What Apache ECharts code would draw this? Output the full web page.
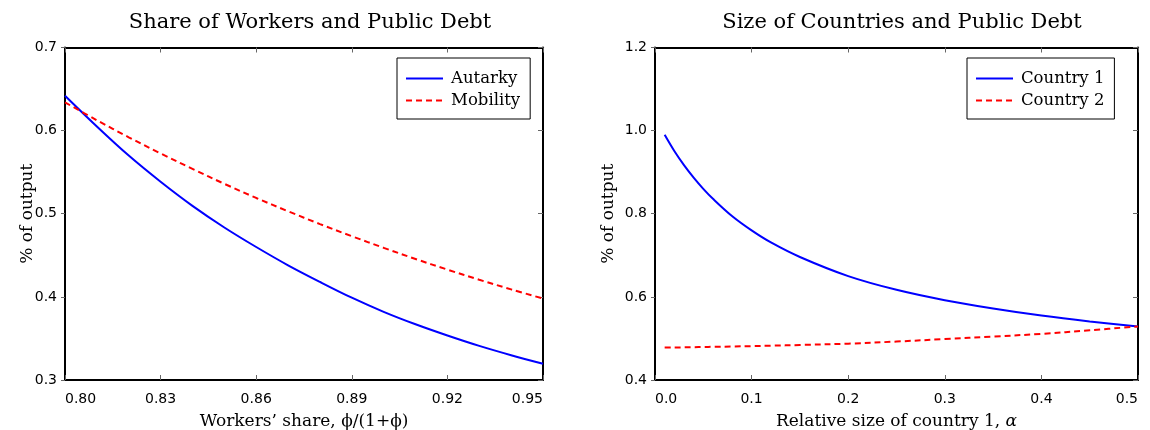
<!DOCTYPE html>
<html>
<head>
<meta charset="utf-8">
<script src="https://cdn.jsdelivr.net/npm/echarts@6/dist/echarts.min.js"></script>
<style>
  html, body { margin: 0; padding: 0; background: #fff; }
  #chart { width: 1150px; height: 430px; }
</style>
</head>
<body>
<div id="chart"></div>
<script>
// Left panel: public debt against the workers' share
const workersShare = [0.80, 0.81, 0.82, 0.83, 0.84, 0.85, 0.86, 0.87, 0.88, 0.89, 0.90, 0.91, 0.92, 0.93, 0.94, 0.95];
const autarky  = [0.642, 0.605, 0.570, 0.5385, 0.5095, 0.4835, 0.460, 0.438, 0.418, 0.399, 0.382, 0.367, 0.3535, 0.341, 0.3298, 0.3195];
const mobility = [0.634, 0.6125, 0.592, 0.5725, 0.554, 0.536, 0.519, 0.503, 0.4876, 0.473, 0.459, 0.4456, 0.4328, 0.4206, 0.409, 0.398];

// Right panel: public debt against the relative size of country 1
const relativeSize = [0.01, 0.02, 0.03, 0.04, 0.05, 0.06, 0.08, 0.10, 0.12, 0.15, 0.20, 0.25, 0.30, 0.35, 0.40, 0.45, 0.50];
const country1 = [0.990, 0.951, 0.917, 0.887, 0.860, 0.836, 0.794, 0.760, 0.731, 0.696, 0.650, 0.617, 0.592, 0.572, 0.555, 0.541, 0.529];
const country2 = [0.478, 0.4783, 0.4786, 0.479, 0.4794, 0.4798, 0.4806, 0.4815, 0.4825, 0.4842, 0.4875, 0.4925, 0.4985, 0.5045, 0.511, 0.5195, 0.529];

// Tick positions and labels
const shareTicks = [0.80, 0.83, 0.86, 0.89, 0.92, 0.95];
const shareTickLabels = ['0.80', '0.83', '0.86', '0.89', '0.92', '0.95'];
const sizeTicks = [0.0, 0.1, 0.2, 0.3, 0.4, 0.5];
const sizeTickLabels = ['0.0', '0.1', '0.2', '0.3', '0.4', '0.5'];
const debtTicksLeft = [0.3, 0.4, 0.5, 0.6, 0.7];
const debtTickLabelsLeft = ['0.3', '0.4', '0.5', '0.6', '0.7'];
const debtTicksRight = [0.4, 0.6, 0.8, 1.0, 1.2];
const debtTickLabelsRight = ['0.4', '0.6', '0.8', '1.0', '1.2'];

const SERIF = '"DejaVu Serif", "Liberation Serif", serif';
const SANS = '"DejaVu Sans", sans-serif';
const TICK_COLOR = '#666';

function labelFor(ticks, labels) {
  return function (v) {
    for (let i = 0; i < ticks.length; i++) {
      if (Math.abs(ticks[i] - v) < 1e-9) return labels[i];
    }
    return '';
  };
}

function pairs(xs, ys) {
  return xs.map((x, i) => [x, ys[i]]);
}

function xAxes(gridIndex, min, max, ticks, labels, name) {
  const line = { show: true, onZero: false, lineStyle: { color: '#000', width: 2 } };
  return [
    {
      type: 'value', gridIndex, position: 'bottom', min, max,
      axisLine: line,
      axisTick: { show: true, inside: true, length: 5, customValues: ticks, lineStyle: { color: TICK_COLOR, width: 1 } },
      axisLabel: {
        show: true, customValues: ticks, formatter: labelFor(ticks, labels),
        color: '#000', fontFamily: SANS, fontSize: 14, margin: 12,
        alignMinLabel: 'left', alignMaxLabel: 'right'
      },
      splitLine: { show: false },
      name, nameLocation: 'middle', nameGap: 33, nameMoveOverlap: false,
      nameTextStyle: {
        color: '#000', fontFamily: SERIF, fontSize: 17,
        rich: { i: { fontFamily: SERIF, fontStyle: 'italic', fontSize: 17, color: '#000' } }
      }
    },
    {
      type: 'value', gridIndex, position: 'top', min, max,
      axisLine: line,
      axisTick: { show: true, inside: true, length: 5, customValues: ticks, lineStyle: { color: TICK_COLOR, width: 1 } },
      axisLabel: { show: false },
      splitLine: { show: false }
    }
  ];
}

function yAxes(gridIndex, min, max, ticks, labels, nameGap) {
  const line = { show: true, onZero: false, lineStyle: { color: '#000', width: 2 } };
  return [
    {
      type: 'value', gridIndex, position: 'left', min, max,
      axisLine: line,
      axisTick: { show: true, inside: false, length: 4, customValues: ticks, lineStyle: { color: TICK_COLOR, width: 1 } },
      axisLabel: {
        show: true, customValues: ticks, formatter: labelFor(ticks, labels),
        color: '#000', fontFamily: SANS, fontSize: 14, margin: 8
      },
      splitLine: { show: false },
      name: '% of output', nameLocation: 'middle', nameGap, nameRotate: 90, nameMoveOverlap: false,
      nameTextStyle: { color: '#000', fontFamily: SERIF, fontSize: 17 }
    },
    {
      type: 'value', gridIndex, position: 'right', min, max,
      axisLine: line,
      axisTick: { show: true, inside: true, length: 5, customValues: ticks, lineStyle: { color: TICK_COLOR, width: 1 } },
      axisLabel: { show: false },
      splitLine: { show: false }
    }
  ];
}

function legendBox(left, names) {
  return {
    left, top: 58, orient: 'vertical',
    data: names,
    borderColor: '#000', borderWidth: 1, borderRadius: 0,
    backgroundColor: '#fff',
    padding: [12, 10, 10, 8],
    itemWidth: 37, itemHeight: 14, itemGap: 5,
    // only the line sample is shown, no marker on it
    itemStyle: { color: 'rgba(0,0,0,0)', borderColor: 'rgba(0,0,0,0)', borderWidth: 0 },
    textStyle: { color: '#000', fontFamily: SERIF, fontSize: 16.5, padding: [0, 0, 0, 3] }
  };
}

const blue = '#0000ff';
const red = '#ff0000';

const option = {
  animation: false,
  backgroundColor: '#fff',
  title: [
    {
      text: 'Share of Workers and Public Debt', left: 305, top: 7, textAlign: 'center',
      textStyle: { color: '#000', fontFamily: SERIF, fontSize: 21, fontWeight: 'normal' }
    },
    {
      text: 'Size of Countries and Public Debt', left: 897, top: 7, textAlign: 'center',
      textStyle: { color: '#000', fontFamily: SERIF, fontSize: 21, fontWeight: 'normal' }
    }
  ],
  legend: [
    legendBox(397, ['Autarky', 'Mobility']),
    legendBox(967, ['Country 1', 'Country 2'])
  ],
  grid: [
    { left: 65, top: 47.5, width: 478, height: 332.5, containLabel: false, outerBoundsMode: 'none' },
    { left: 655, top: 47.5, width: 483, height: 332.5, containLabel: false, outerBoundsMode: 'none' }
  ],
  xAxis: [
    ...xAxes(0, 0.80, 0.95, shareTicks, shareTickLabels, 'Workers\u2019 share, \u03d5/(1+\u03d5)'),
    ...xAxes(1, 0.0, 0.5, sizeTicks, sizeTickLabels, 'Relative size of country 1, {i|\u03b1}')
  ],
  yAxis: [
    ...yAxes(0, 0.3, 0.7, debtTicksLeft, debtTickLabelsLeft, 29),
    ...yAxes(1, 0.4, 1.2, debtTicksRight, debtTickLabelsRight, 38)
  ],
  series: [
    {
      name: 'Autarky', type: 'line', xAxisIndex: 0, yAxisIndex: 0,
      data: pairs(workersShare, autarky), smooth: 0.35,
      showSymbol: false, symbol: 'none',
      lineStyle: { color: blue, width: 2 }, itemStyle: { color: blue }
    },
    {
      name: 'Mobility', type: 'line', xAxisIndex: 0, yAxisIndex: 0,
      data: pairs(workersShare, mobility), smooth: 0.35,
      showSymbol: false, symbol: 'none',
      lineStyle: { color: red, width: 2, type: [6, 4] }, itemStyle: { color: red }
    },
    {
      name: 'Country 1', type: 'line', xAxisIndex: 2, yAxisIndex: 2,
      data: pairs(relativeSize, country1), smooth: 0.35,
      showSymbol: false, symbol: 'none',
      lineStyle: { color: blue, width: 2 }, itemStyle: { color: blue }
    },
    {
      name: 'Country 2', type: 'line', xAxisIndex: 2, yAxisIndex: 2,
      data: pairs(relativeSize, country2), smooth: 0.35,
      showSymbol: false, symbol: 'none',
      lineStyle: { color: red, width: 2, type: [6, 4] }, itemStyle: { color: red }
    }
  ]
};

const chart = echarts.init(document.getElementById('chart'), null, { renderer: 'canvas' });
chart.setOption(option);
</script>
</body>
</html>
